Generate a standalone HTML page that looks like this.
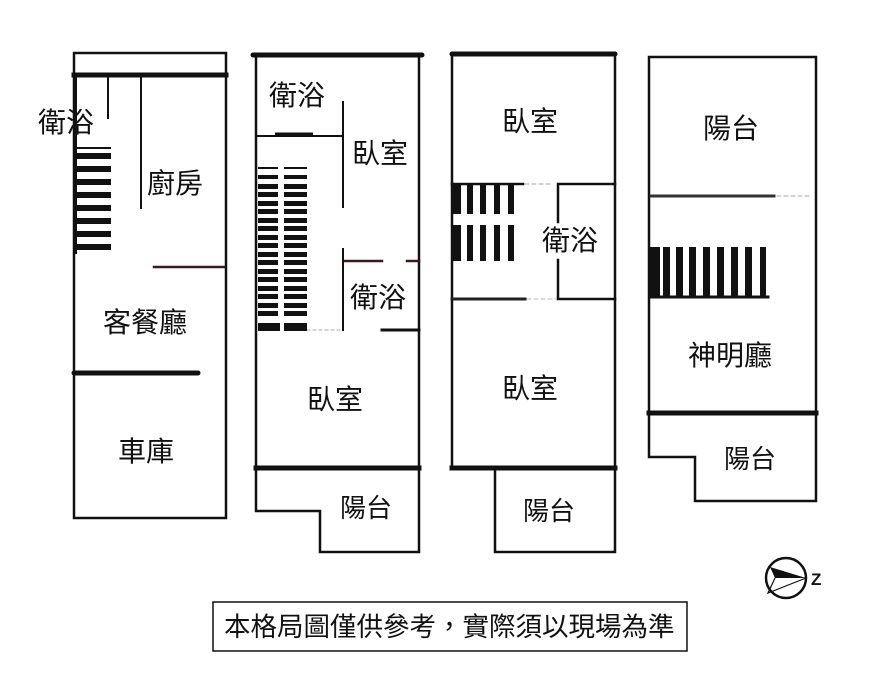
<!DOCTYPE html>
<html><head><meta charset="utf-8"><style>
html,body{margin:0;padding:0;background:#fff}
svg{display:block}
text{font-family:"Liberation Sans","Noto Sans CJK TC",sans-serif;fill:#111}
</style></head><body>
<svg width="873" height="697" viewBox="0 0 873 697" xmlns="http://www.w3.org/2000/svg">
<rect width="873" height="697" fill="#fff"/>
<g stroke="#111" fill="none" stroke-linecap="square">
<rect x="74" y="53" width="152" height="465" stroke-width="2.5"/>
<line x1="74" y1="75" x2="226" y2="75" stroke-width="5"/>
<line x1="75" y1="75" x2="75" y2="252" stroke-width="4"/>
<line x1="108" y1="78" x2="108" y2="118" stroke-width="2"/>
<line x1="141" y1="78" x2="141" y2="208" stroke-width="2"/>
<line x1="154" y1="267" x2="224" y2="267" stroke-width="2.5" stroke="#3a1a1a"/>
<line x1="74" y1="373" x2="198" y2="373" stroke-width="5" stroke-linecap="round"/>
<line x1="253" y1="55" x2="422" y2="55" stroke-width="5" stroke-linecap="round"/>
<polyline points="256,55 256,511 320,511 320,552 419,552 419,55" stroke-width="2.5"/>
<line x1="256" y1="468" x2="419" y2="468" stroke-width="5"/>
<line x1="256" y1="136" x2="343" y2="136" stroke-width="2"/>
<line x1="277" y1="134.5" x2="311" y2="134.5" stroke-width="4"/>
<line x1="343" y1="102" x2="343" y2="207" stroke-width="2"/>
<line x1="343" y1="249" x2="343" y2="330" stroke-width="2"/>
<line x1="345" y1="261" x2="382" y2="261" stroke-width="2.5" stroke="#3a1a1a"/>
<line x1="407" y1="261" x2="419" y2="261" stroke-width="2.5" stroke="#3a1a1a"/>
<line x1="307" y1="330" x2="343" y2="330" stroke-width="1" stroke="#aaa" stroke-dasharray="3,3"/>
<line x1="382" y1="330" x2="419" y2="330" stroke-width="3"/>
<line x1="452" y1="54" x2="615" y2="54" stroke-width="5" stroke-linecap="round"/>
<polyline points="452,54 452,468 495,468 495,552 615,552 615,54" stroke-width="2.5"/>
<line x1="452" y1="468" x2="615" y2="468" stroke-width="5"/>
<line x1="452" y1="184" x2="523" y2="184" stroke-width="2.5"/>
<line x1="525" y1="184" x2="553" y2="184" stroke-width="1" stroke="#aaa" stroke-dasharray="4,3"/>
<polyline points="558,222 558,184 615,184" stroke-width="2.5"/>
<polyline points="558,260 558,299 615,299" stroke-width="2.5"/>
<line x1="452" y1="299" x2="525" y2="299" stroke-width="3" stroke="#222"/>
<line x1="527" y1="299" x2="556" y2="299" stroke-width="1" stroke="#bbb" stroke-dasharray="4,3"/>
<rect x="649" y="57" width="167" height="356" stroke-width="2.5"/>
<polyline points="649,413 649,457 695,457 695,501 816,501 816,413" stroke-width="2.5"/>
<line x1="649" y1="413" x2="816" y2="413" stroke-width="5"/>
<line x1="651" y1="196" x2="774" y2="196" stroke-width="3" stroke="#333"/>
<line x1="777" y1="196" x2="810" y2="196" stroke-width="1" stroke="#aaa" stroke-dasharray="4,3"/>
<line x1="651" y1="297" x2="768" y2="297" stroke-width="3"/>
</g>
<g fill="#111">
<rect x="76" y="147" width="35" height="2"/>
<rect x="76" y="153" width="35" height="6"/><rect x="76" y="166" width="35" height="6"/><rect x="76" y="179" width="35" height="6"/><rect x="76" y="192" width="35" height="6"/><rect x="76" y="205" width="35" height="6"/><rect x="76" y="218" width="35" height="6"/><rect x="76" y="231" width="35" height="6"/><rect x="76" y="244" width="35" height="6"/>
<g>
<rect x="258" y="167" width="20" height="2"/><rect x="284" y="167" width="23" height="2"/>
<rect x="258" y="175" width="20" height="4"/><rect x="284" y="175" width="23" height="4"/>
<rect x="258" y="184" width="20" height="5"/><rect x="284" y="184" width="23" height="5"/>
<rect x="258" y="192" width="20" height="5"/><rect x="284" y="192" width="23" height="5"/>
<rect x="258" y="201" width="20" height="5"/><rect x="284" y="201" width="23" height="5"/>
<rect x="258" y="209" width="20" height="5"/><rect x="284" y="209" width="23" height="5"/>
<rect x="258" y="218" width="20" height="5"/><rect x="284" y="218" width="23" height="5"/>
<rect x="258" y="226" width="20" height="5"/><rect x="284" y="226" width="23" height="5"/>
<rect x="258" y="235" width="20" height="5"/><rect x="284" y="235" width="23" height="5"/>
<rect x="258" y="243" width="20" height="5"/><rect x="284" y="243" width="23" height="5"/>
<rect x="258" y="252" width="20" height="5"/><rect x="284" y="252" width="23" height="5"/>
<rect x="258" y="260" width="20" height="5"/><rect x="284" y="260" width="23" height="5"/>
<rect x="258" y="269" width="20" height="5"/><rect x="284" y="269" width="23" height="5"/>
<rect x="258" y="277" width="20" height="5"/><rect x="284" y="277" width="23" height="5"/>
<rect x="258" y="286" width="20" height="5"/><rect x="284" y="286" width="23" height="5"/>
<rect x="258" y="294" width="20" height="5"/><rect x="284" y="294" width="23" height="5"/>
<rect x="258" y="303" width="20" height="5"/><rect x="284" y="303" width="23" height="5"/>
<rect x="258" y="311" width="20" height="5"/><rect x="284" y="311" width="23" height="5"/>
<rect x="258" y="323" width="22" height="8"/><rect x="284" y="323" width="23" height="8"/>
</g>
<rect x="452" y="184" width="9" height="30"/><rect x="467" y="184" width="6" height="30"/><rect x="480" y="184" width="6" height="30"/><rect x="494" y="184" width="6" height="30"/><rect x="508" y="184" width="6" height="30"/>
<rect x="452" y="225" width="9" height="36"/><rect x="467" y="225" width="6" height="36"/><rect x="480" y="225" width="6" height="36"/><rect x="494" y="225" width="6" height="36"/><rect x="508" y="225" width="6" height="36"/>
<rect x="649" y="247" width="11" height="50"/><rect x="663" y="247" width="7" height="50"/><rect x="676" y="247" width="7" height="50"/><rect x="689" y="247" width="7" height="50"/><rect x="703" y="247" width="7" height="50"/><rect x="717" y="247" width="7" height="50"/><rect x="731" y="247" width="7" height="50"/><rect x="745" y="247" width="7" height="50"/><rect x="760" y="247" width="6" height="50"/>
</g>
<g font-size="28">
<text x="38" y="132">衛浴</text>
<text x="147" y="193">廚房</text>
<text x="103" y="332">客餐廳</text>
<text x="118" y="461">車庫</text>
<text x="269" y="105">衛浴</text>
<text x="352" y="163">臥室</text>
<text x="350" y="307">衛浴</text>
<text x="307" y="409">臥室</text>
<text x="340" y="517" font-size="26">陽台</text>
<text x="502" y="131">臥室</text>
<text x="542" y="250">衛浴</text>
<text x="502" y="398">臥室</text>
<text x="523" y="520" font-size="26">陽台</text>
<text x="703" y="138">陽台</text>
<text x="688" y="365">神明廳</text>
<text x="724" y="468" font-size="26">陽台</text>
</g>
<circle cx="786" cy="578" r="20" fill="none" stroke="#111" stroke-width="2.5"/>
<polygon points="770,567 806,578 775,578" fill="#111"/>
<polyline points="775,578 768,593 806,578" fill="none" stroke="#111" stroke-width="1.2"/>
<text x="811" y="585" font-size="17" font-weight="bold">Z</text>
<rect x="213" y="602" width="474" height="49" fill="none" stroke="#111" stroke-width="1.5"/>
<text x="224" y="636" font-size="26.5">本格局圖僅供參考，實際須以現場為準</text>
</svg>
</body></html>
